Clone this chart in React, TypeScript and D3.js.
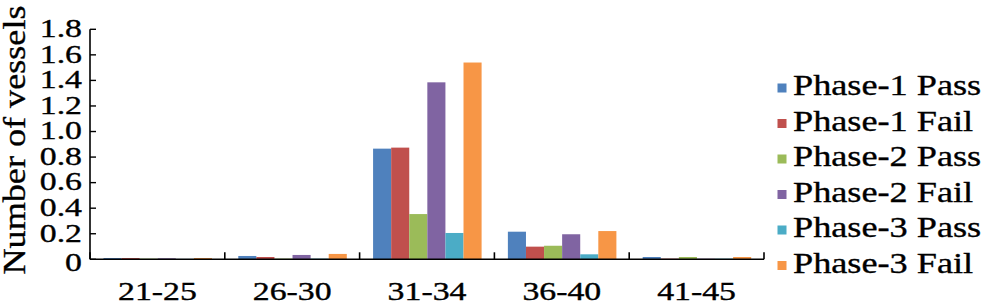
import React, { useEffect, useRef } from 'react';
import * as d3 from 'd3';

const categories = ['21-25', '26-30', '31-34', '36-40', '41-45'];
const seriesNames = ['Phase-1 Pass', 'Phase-1 Fail', 'Phase-2 Pass', 'Phase-2 Fail', 'Phase-3 Pass', 'Phase-3 Fail'];
const phase1Pass = [0.01, 0.026, 0.866, 0.216, 0.018];
const phase1Fail = [0.01, 0.018, 0.874, 0.099, 0.005];
const phase2Pass = [0.005, 0.005, 0.354, 0.106, 0.018];
const phase2Fail = [0.008, 0.034, 1.385, 0.196, 0.005];
const phase3Pass = [0.003, 0.005, 0.206, 0.039, 0.005];
const phase3Fail = [0.01, 0.042, 1.54, 0.221, 0.018];
const yTicks = [0, 0.2, 0.4, 0.6, 0.8, 1.0, 1.2, 1.4, 1.6, 1.8];
const colors = ['#4F81BD', '#C0504D', '#9BBB59', '#8064A2', '#4BACC6', '#F79646'];

const seriesValues = [phase1Pass, phase1Fail, phase2Pass, phase2Fail, phase3Pass, phase3Fail];

const App = () => {
  const ref = useRef<SVGSVGElement>(null);
  const width = 986;
  const height = 305;

  useEffect(() => {
    const svg = d3.select(ref.current);
    svg.selectAll('*').remove();

    const font = '"Liberation Serif", "Times New Roman", serif';
    const margin = { left: 90, right: 764, top: 29.3, bottom: 259.3 };

    const x0 = d3.scaleBand().domain(categories).range([margin.left, margin.right]).padding(0);
    const bw = x0.bandwidth();
    const x1 = d3.scaleBand().domain(seriesNames).range([bw * 0.1, bw * 0.905]).padding(0);
    const y = d3.scaleLinear().domain([0, 1.8]).range([margin.bottom, margin.top]);

    // text a bit heavier, like the scanned original
    const ink = (sel: any, size: number) => sel
      .style('font-family', font)
      .style('font-size', `${size}px`)
      .style('fill', '#000')
      .style('stroke', '#000')
      .style('stroke-width', 0.35);

    // bars
    seriesNames.forEach((name, si) => {
      svg.append('g')
        .selectAll('rect')
        .data(seriesValues[si])
        .enter().append('rect')
        .attr('x', (d, i) => (x0(categories[i]) as number) + (x1(name) as number))
        .attr('y', d => y(d))
        .attr('width', x1.bandwidth())
        .attr('height', d => y(0) - y(d))
        .style('fill', colors[si]);
    });

    // y axis
    svg.append('line')
      .attr('x1', margin.left).attr('x2', margin.left)
      .attr('y1', y(1.8)).attr('y2', y(0))
      .attr('stroke', '#000').attr('stroke-width', 1.6);
    svg.append('g')
      .selectAll('line')
      .data(yTicks)
      .enter().append('line')
      .attr('x1', margin.left).attr('x2', margin.left + 6)
      .attr('y1', d => y(d)).attr('y2', d => y(d))
      .attr('stroke', '#000').attr('stroke-width', 1.4);
    ink(svg.append('g')
      .selectAll('text')
      .data(yTicks)
      .enter().append('text')
      .attr('transform', d => `translate(82, ${y(d) + (d === 0 ? 3 : -1)}) scale(1.3, 1)`)
      .attr('dy', '0.34em')
      .attr('text-anchor', 'end'), 26)
      .text(d => (d === 0 ? '0' : d.toFixed(1)));

    // x axis
    svg.append('line')
      .attr('x1', margin.left).attr('x2', margin.right)
      .attr('y1', y(0)).attr('y2', y(0))
      .attr('stroke', '#000').attr('stroke-width', 1.6);
    const bounds = categories.map(c => x0(c) as number).concat([margin.right]);
    svg.append('g')
      .selectAll('line')
      .data(bounds)
      .enter().append('line')
      .attr('x1', d => d).attr('x2', d => d)
      .attr('y1', y(0)).attr('y2', y(0) - 7)
      .attr('stroke', '#000').attr('stroke-width', 1.6);
    ink(svg.append('g')
      .selectAll('text')
      .data(categories)
      .enter().append('text')
      .attr('transform', d => `translate(${(x0(d) as number) + bw / 2}, 299.5) scale(1.3, 1)`)
      .attr('text-anchor', 'middle'), 26)
      .text(d => d);

    // y axis title
    ink(svg.append('text')
      .attr('transform', 'translate(25, 140) rotate(-90) scale(1.13, 1)')
      .attr('text-anchor', 'middle'), 32)
      .text('Number of vessels');

    // legend
    const legend = svg.append('g');
    seriesNames.forEach((name, i) => {
      const cy = 88 + i * 35.5;
      legend.append('rect')
        .attr('x', 777.5).attr('y', cy - 4.5)
        .attr('width', 9).attr('height', 9)
        .style('fill', colors[i]);
      ink(legend.append('text')
        .attr('transform', `translate(793, ${cy + 7}) scale(1.25, 1)`), 29)
        .text(name);
    });
  }, []);

  return (
    <svg
      ref={ref}
      width={width}
      height={height}
      style={{ position: 'absolute', left: 0, top: 0, background: '#fff' }}
    ></svg>
  );
};

export default App;
